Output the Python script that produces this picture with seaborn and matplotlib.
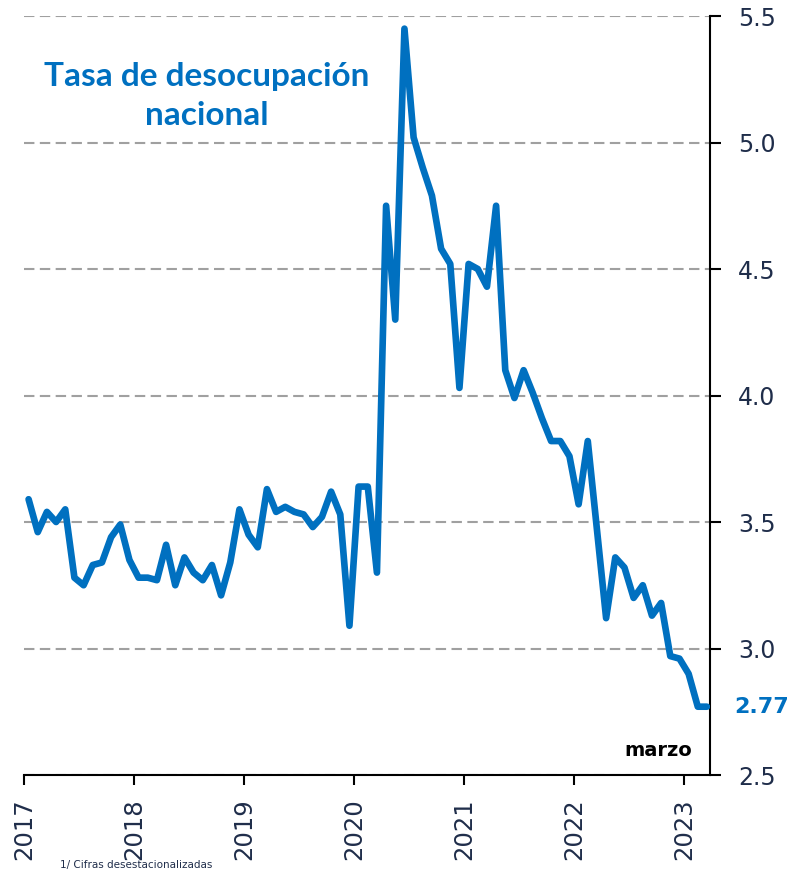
import matplotlib
matplotlib.use("Agg")
import matplotlib.pyplot as plt
import numpy as np
import pandas as pd
import seaborn as sns

# monthly national unemployment rate, Jan 2017 - Mar 2023
anio_inicio = 2017
tasa = [3.59, 3.46, 3.54, 3.50, 3.55, 3.28, 3.25, 3.33, 3.34, 3.44, 3.49, 3.35,
        3.28, 3.28, 3.27, 3.41, 3.25, 3.36, 3.30, 3.27, 3.33, 3.21, 3.34, 3.55,
        3.45, 3.40, 3.63, 3.54, 3.56, 3.54, 3.53, 3.48, 3.52, 3.62, 3.53, 3.09,
        3.64, 3.64, 3.30, 4.75, 4.30, 5.45, 5.02, 4.90, 4.79, 4.58, 4.52, 4.03,
        4.52, 4.50, 4.43, 4.75, 4.10, 3.99, 4.10, 4.01, 3.91, 3.82, 3.82, 3.76,
        3.57, 3.82, 3.47, 3.12, 3.36, 3.32, 3.20, 3.25, 3.13, 3.18, 2.97, 2.96,
        2.90, 2.77, 2.77]
anios = [2017, 2018, 2019, 2020, 2021, 2022, 2023]
y_ticks = [2.5, 3.0, 3.5, 4.0, 4.5, 5.0, 5.5]
titulo = "Tasa de desocupación\nnacional"
ultimo_valor = "2.77"
ultimo_mes = "marzo"
nota = "1/ Cifras desestacionalizadas"

azul = "#0070C0"
navy = "#1F2D4A"

df = pd.DataFrame({
    "fecha": anio_inicio + (np.arange(len(tasa)) + 0.5) / 12,
    "tasa": tasa,
})

sns.set_style("white")
plt.rcParams["font.family"] = ["DejaVu Sans"]

fig = plt.figure(figsize=(8.02, 8.71), dpi=100)
ax = fig.add_axes([24 / 802, 1 - 775 / 871, (710 - 24) / 802, (775 - 16) / 871])

for v in y_ticks:
    ax.axhline(v, color="#A0A0A0", lw=1.5, dashes=(5, 2.6), zorder=1)

sns.lineplot(data=df, x="fecha", y="tasa", ax=ax, color=azul, lw=4.8, zorder=3)

ax.set_xlim(2017.0, 2023.236)
ax.set_ylim(2.5, 5.5)
ax.set_xticks(anios)
ax.set_xticklabels([str(a) for a in anios], rotation=90, fontsize=17.5, color=navy)
ax.set_yticks(y_ticks)
ax.set_yticklabels([f"{v:.1f}" for v in y_ticks], fontsize=17, color=navy)
ax.yaxis.tick_right()
ax.tick_params(axis="y", direction="out", length=8, width=1.5, color="black", pad=12, right=True)
ax.tick_params(axis="x", direction="out", length=7, width=1.5, color="black", pad=10, bottom=True)
ax.set_xlabel("")
ax.set_ylabel("")

for s in ["left", "top"]:
    ax.spines[s].set_visible(False)
for s in ["right", "bottom"]:
    ax.spines[s].set_color("black")
    ax.spines[s].set_linewidth(1.5)

ax.text(207 / 802, 1 - 96 / 871, titulo, transform=fig.transFigure, ha="center", va="center",
        fontsize=24, fontweight="bold", color=azul, family=["Lato", "DejaVu Sans"], linespacing=1.45)
ax.text(1.035, tasa[-1], ultimo_valor, transform=ax.get_yaxis_transform(), ha="left", va="center",
        fontsize=16, fontweight="bold", color=azul)
ax.text(692 / 802, 1 - 750 / 871, ultimo_mes, transform=fig.transFigure, ha="right", va="center",
        fontsize=14, fontweight="bold", color="black")
fig.text(60 / 802, 1 / 871, nota, ha="left", va="bottom", fontsize=7.5, color=navy)

fig.savefig("out.png", dpi=100)
